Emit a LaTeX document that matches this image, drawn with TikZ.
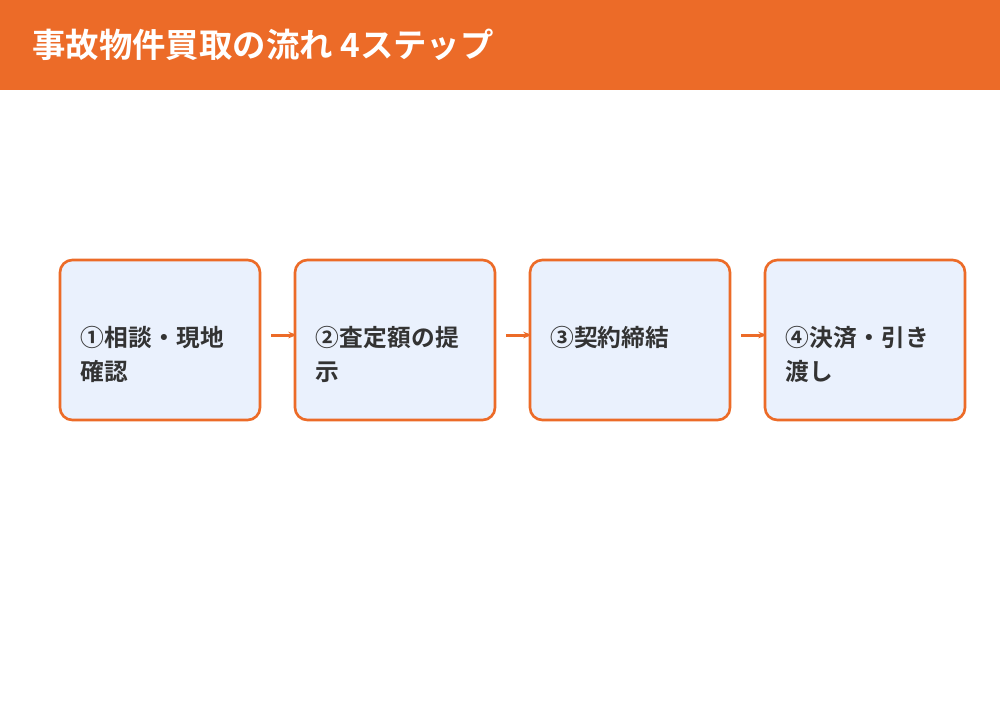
\documentclass[tikz,border=0pt]{standalone}
\usepackage{fontspec}
\setmainfont{Noto Sans CJK JP}[BoldFont={* Bold}]
\XeTeXlinebreaklocale "ja"
\XeTeXlinebreakskip=0pt plus 1pt
\usetikzlibrary{arrows.meta}
\definecolor{org}{HTML}{EC6B28}
\definecolor{bx}{HTML}{EAF1FD}
\definecolor{tx}{HTML}{333333}
\begin{document}
\begin{tikzpicture}[x=0.02cm,y=-0.02cm,
 stepbox/.style={draw=org,line width=1.5pt,fill=bx,rounded corners=7pt,minimum width=4cm,minimum height=3.2cm,inner sep=0pt},
 lbl/.style={anchor=north west,text width=3.1cm,align=left,font=\bfseries\fontsize{13.5}{19.5}\selectfont,text=tx,inner sep=0pt},
 arr/.style={draw=org,line width=1.7pt,-{Stealth[length=5pt]}}]
\useasboundingbox (0,0) rectangle (1000,700);
\fill[org] (0,0) rectangle (1000,90);
\node[anchor=west,text=white,font=\bfseries\fontsize{19}{22}\selectfont,inner sep=0pt] (title) at (32,45) {事故物件買取の流れ 4ステップ};
\coordinate (a1) at (271,335);\coordinate (b1) at (297,335);
\coordinate (a2) at (506,335);\coordinate (b2) at (532,335);
\coordinate (a3) at (741,335);\coordinate (b3) at (767,335);
\draw[arr] (a1) -- (b1);
\draw[arr] (a2) -- (b2);
\draw[arr] (a3) -- (b3);
\node[stepbox] (s1) at (160,340) {};
\node[stepbox] (s2) at (395,340) {};
\node[stepbox] (s3) at (630,340) {};
\node[stepbox] (s4) at (865,340) {};
\node[lbl] (t1) at (80,326) {①相談・現地確認};
\node[lbl] (t2) at (315,326) {②査定額の提示};
\node[lbl] (t3) at (550,326) {③契約締結};
\node[lbl] (t4) at (785,326) {④決済・引き渡し};
\end{tikzpicture}
\end{document}
